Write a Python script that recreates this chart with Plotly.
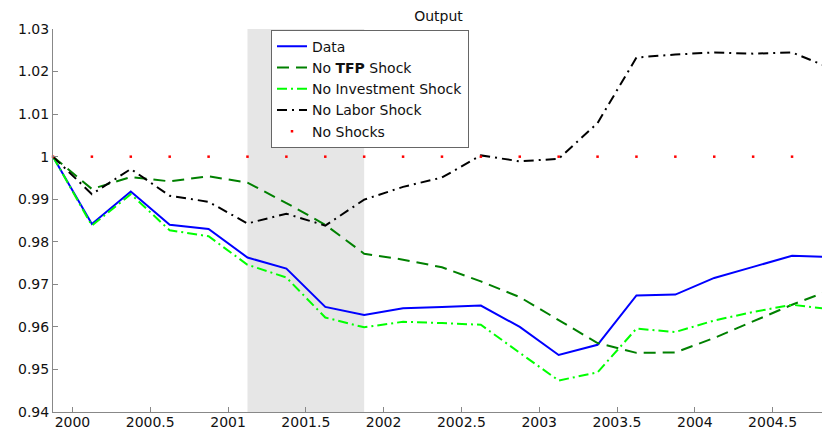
import plotly.graph_objects as go

# ---- data ----
periods = [1999.875, 2000.125, 2000.375, 2000.625, 2000.875, 2001.125, 2001.375,
           2001.625, 2001.875, 2002.125, 2002.375, 2002.625, 2002.875, 2003.125,
           2003.375, 2003.625, 2003.875, 2004.125, 2004.375, 2004.625, 2004.875]

data_output = [1.0, 0.9842, 0.9918, 0.9840, 0.9830, 0.9763, 0.9737, 0.9647, 0.9628,
               0.9644, 0.9647, 0.9650, 0.9600, 0.9534, 0.9558, 0.9674, 0.9676, 0.9715,
               0.9741, 0.9767, 0.9764]
no_tfp = [1.0, 0.9924, 0.9952, 0.9942, 0.9954, 0.9939, 0.9891, 0.9840, 0.9772,
          0.9758, 0.9740, 0.9707, 0.9670, 0.9617, 0.9562, 0.9539, 0.9540, 0.9574,
          0.9613, 0.9652, 0.9687]
no_investment = [1.0, 0.9838, 0.9912, 0.9827, 0.9813, 0.9746, 0.9716, 0.9622, 0.9599,
                 0.9612, 0.9609, 0.9605, 0.9539, 0.9474, 0.9493, 0.9596, 0.9588, 0.9615,
                 0.9635, 0.9652, 0.9641]
no_labor = [1.0, 0.9912, 0.9971, 0.9908, 0.9894, 0.9843, 0.9866, 0.9838, 0.9899,
            0.9929, 0.9951, 1.0003, 0.9989, 0.9995, 1.0079, 1.0233, 1.0240, 1.0245,
            1.0242, 1.0245, 1.0208]
no_shocks = [1.0, 1.0, 1.0, 1.0, 1.0, 1.0, 1.0, 1.0, 1.0, 1.0, 1.0, 1.0, 1.0, 1.0,
             1.0, 1.0, 1.0, 1.0, 1.0, 1.0, 1.0]

recession = [2001.125, 2001.875]

x_tickvals = [2000, 2000.5, 2001, 2001.5, 2002, 2002.5, 2003, 2003.5, 2004, 2004.5]
x_ticktext = ["2000", "2000.5", "2001", "2001.5", "2002", "2002.5", "2003", "2003.5",
              "2004", "2004.5"]
y_tickvals = [0.94, 0.95, 0.96, 0.97, 0.98, 0.99, 1.0, 1.01, 1.02, 1.03]
y_ticktext = ["0.94", "0.95", "0.96", "0.97", "0.98", "0.99", "1", "1.01", "1.02", "1.03"]

FONT = "DejaVu Sans"
TXT = "#111111"
AX = "#888888"

# the page body adds an 8px margin, so the figure is sized to fit the window
FIG_W, FIG_H = 822, 422
ML, MR, MT, MB = 45, 0, 21, 18
PLOT_W = FIG_W - ML - MR

fig = go.Figure()

fig.add_trace(go.Scatter(x=periods, y=data_output, mode="lines", name="Data",
                         line=dict(color="#0000ff", width=2)))
fig.add_trace(go.Scatter(x=periods, y=no_tfp, mode="lines", name="No <b>TFP</b> Shock",
                         line=dict(color="#008000", width=2, dash="12px,7px")))
fig.add_trace(go.Scatter(x=periods, y=no_investment, mode="lines", name="No Investment Shock",
                         line=dict(color="#00ff00", width=2, dash="10px,4px,2px,4px")))
fig.add_trace(go.Scatter(x=periods, y=no_labor, mode="lines", name="No Labor Shock",
                         line=dict(color="#000000", width=2, dash="10px,5px,2px,5px")))
fig.add_trace(go.Scatter(x=periods, y=no_shocks, mode="markers", name="No Shocks",
                         marker=dict(color="#ff0000", size=2.5, symbol="square",
                                     line=dict(width=0)),
                         cliponaxis=False))

fig.add_shape(type="rect", xref="x", yref="paper", x0=recession[0], x1=recession[1],
              y0=0, y1=1, fillcolor="#e6e6e6", line=dict(width=0), layer="below")

fig.update_layout(
    width=FIG_W, height=FIG_H,
    margin=dict(l=ML, r=MR, t=MT, b=MB, autoexpand=False),
    paper_bgcolor="white", plot_bgcolor="white",
    font=dict(family=FONT, size=14, color=TXT),
    title=dict(text="Output", x=(438.5 - 53) / PLOT_W, xanchor="center",
               xref="paper", yref="container", y=1 - 8 / FIG_H, yanchor="middle",
               automargin=False,
               font=dict(family=FONT, size=14, color=TXT)),
    showlegend=True,
    legend=dict(x=(271 - 53) / PLOT_W, y=0.998, xanchor="left", yanchor="top",
                bgcolor="white", bordercolor="#666666", borderwidth=1,
                font=dict(family=FONT, size=14, color=TXT),
                tracegroupgap=0),
    xaxis=dict(range=[1999.875, 2004.869], tickvals=x_tickvals, ticktext=x_ticktext,
               automargin=False,
               showgrid=False, zeroline=False, showline=True, linecolor=AX,
               linewidth=1, ticks="inside", ticklen=5, tickcolor=AX,
               ticklabelstandoff=-3,
               tickfont=dict(family=FONT, size=14, color=TXT)),
    yaxis=dict(range=[0.94, 1.03], tickvals=y_tickvals, ticktext=y_ticktext,
               automargin=False,
               showgrid=False, zeroline=False, showline=True, linecolor=AX,
               linewidth=1, ticks="inside", ticklen=5, tickcolor=AX,
               tickfont=dict(family=FONT, size=14, color=TXT)),
)

fig.write_html("out.html")
